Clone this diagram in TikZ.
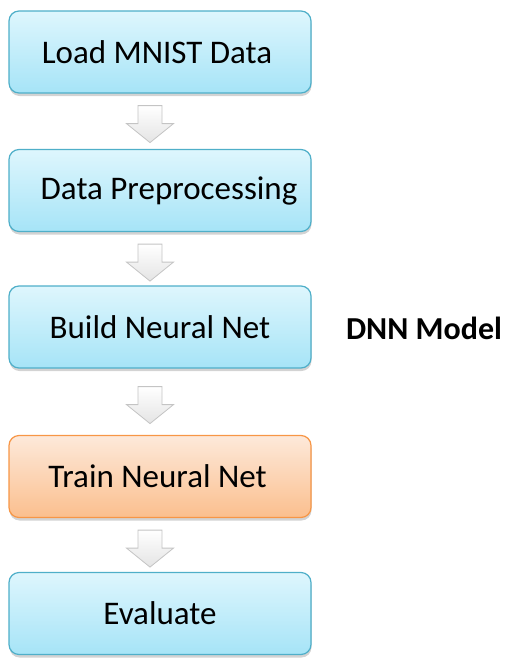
\documentclass[tikz,border=0pt]{standalone}
\usepackage{fontspec}
\setmainfont{Carlito}
\usetikzlibrary{shadows,calc}
\definecolor{bluetop}{HTML}{DEF6FD}
\definecolor{bluebot}{HTML}{A6E4F7}
\definecolor{blueline}{HTML}{4FAFC9}
\definecolor{orgtop}{HTML}{FDE9DA}
\definecolor{orgbot}{HTML}{FBBF8E}
\definecolor{orgline}{HTML}{F79646}
\definecolor{arrline}{HTML}{C4C4C4}
\definecolor{arrbot}{HTML}{E4E4E4}
\tikzset{
  stepbox/.style={rounded corners=10pt, minimum width=302pt, minimum height=82pt,
    line width=1.2pt, inner sep=0pt,
    font=\fontsize{33}{38}\selectfont,
    drop shadow={shadow xshift=0.5pt, shadow yshift=-3pt, opacity=0.35}},
  bluebox/.style={stepbox, draw=blueline, top color=bluetop, bottom color=bluebot},
  orangebox/.style={stepbox, draw=orgline, top color=orgtop, bottom color=orgbot},
  blockarr/.style={draw=arrline, line width=0.8pt, top color=white, bottom color=arrbot},
  downarrow/.pic={
    \path[blockarr] (-12,0) -- (12,0) -- (12,18) -- (23.5,18) -- (0,37) -- (-23.5,18) -- (-12,18) -- cycle;
  }
}
\begin{document}
\begin{tikzpicture}[x=1pt,y=-1pt]
\useasboundingbox (0,0) rectangle (522,670);
\node[bluebox] (load) at (160,52) {\hspace*{-6pt}Load MNIST Data};
\node[bluebox] (prep) at (160,190.5) {\hspace*{18pt}Data Preprocessing};
\node[bluebox] (build) at (160,327) {Build Neural Net};
\node[orangebox] (train) at (160,476.5) {\hspace*{-5pt}Train Neural Net};
\node[bluebox] (eval) at (160,613.5) {Evaluate};
\node[font=\bfseries\fontsize{32}{37}\selectfont] (dnn) at (424,328) {DNN Model};
\coordinate (a1) at ($(load.south)+(-10,12)$);
\coordinate (a2) at ($(prep.south)+(-10,12)$);
\coordinate (a3) at ($(build.south)+(-10,18)$);
\coordinate (a4) at ($(train.south)+(-10,12)$);
\pic at (a1) {downarrow};
\pic at (a2) {downarrow};
\pic at (a3) {downarrow};
\pic at (a4) {downarrow};
\end{tikzpicture}
\end{document}
